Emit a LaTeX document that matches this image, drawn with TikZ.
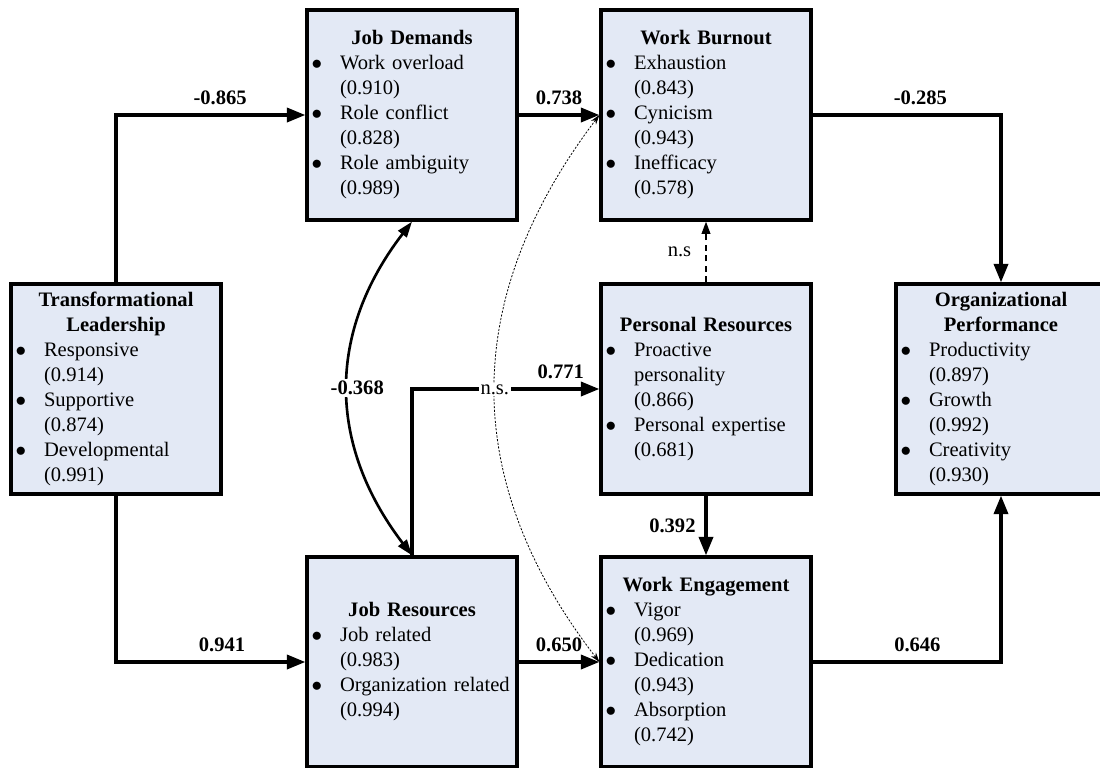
\documentclass[tikz,border=0pt]{standalone}
\usepackage{fontspec}
\setmainfont{Liberation Serif}
\usepackage{tikz}
\usetikzlibrary{arrows.meta}

\definecolor{boxblue}{RGB}{227,233,245}
\newcommand{\figfont}{\fontsize{11.7}{14.23}\selectfont}
\newcommand{\boxhead}[1]{{\centering\bfseries #1\par}}
\newcommand{\bitem}[1]{\noindent\hangindent=16.5pt\hangafter=1\makebox[16.5pt][l]{\hspace{0.4pt}$\bullet$}#1\par}

\begin{document}
\begin{tikzpicture}[x=0.02cm, y=-0.02cm,
		factor/.style={rectangle, draw, line width=1.9pt, fill=boxblue, minimum width=4.2cm, minimum height=4.2cm, text width=4.04cm, inner xsep=0.08cm, inner ysep=0pt, align=left, font=\figfont},
		arr/.style={line width=1.9pt, -{Triangle[length=10.5pt, width=8pt]}},
		corr/.style={line width=1.5pt, {Triangle[length=9pt, width=6pt]}-{Triangle[length=9pt, width=6pt]}},
		nsarr/.style={line width=0.8pt, dash pattern=on 3.5pt off 2.5pt, -{Triangle[length=7pt, width=5pt]}},
		dotarr/.style={line width=0.45pt, dash pattern=on 1.2pt off 0.9pt, {Stealth[length=5.5pt, width=3.5pt]}-{Stealth[length=5.5pt, width=3.5pt]}},
		coef/.style={font=\figfont\bfseries, inner sep=0pt},
		ns/.style={font=\figfont, inner sep=0pt}]
			\useasboundingbox (0,0) rectangle (1100,768);
			\clip (0,0) rectangle (1100,768);
			
			\node[factor] (0) at (116,389) {\boxhead{Transformational\\Leadership}\bitem{Responsive\newline(0.914)}\bitem{Supportive\newline(0.874)}\bitem{Developmental\newline(0.991)}};
			\node[factor] (1) at (412,115) {\boxhead{Job Demands}\bitem{Work overload\newline(0.910)}\bitem{Role conflict\newline(0.828)}\bitem{Role ambiguity\newline(0.989)}};
			\node[factor] (2) at (412,662) {\boxhead{Job Resources}\bitem{Job related\newline(0.983)}\bitem{Organization related\newline(0.994)}};
			\node[factor] (3) at (706,115) {\boxhead{Work Burnout}\bitem{Exhaustion\newline(0.843)}\bitem{Cynicism\newline(0.943)}\bitem{Inefficacy\newline(0.578)}};
			\node[factor] (4) at (706,389) {\boxhead{Personal Resources}\bitem{Proactive\newline personality\newline(0.866)}\bitem{Personal expertise\newline(0.681)}};
			\node[factor] (5) at (706,662) {\boxhead{Work Engagement}\bitem{Vigor\newline(0.969)}\bitem{Dedication\newline(0.943)}\bitem{Absorption\newline(0.742)}};
			\node[factor] (6) at (1001,389) {\boxhead{Organizational\\Performance}\bitem{Productivity\newline(0.897)}\bitem{Growth\newline(0.992)}\bitem{Creativity\newline(0.930)}};
			
			\draw[arr] (0.north) |- (1.west) node[coef, pos=0.775, above=5pt] {-0.865};
			\draw[arr] (0.south) |- (2.west) node[coef, pos=0.78, above=5pt] {0.941};
			\draw[arr] (1.east) -- (3.west) node[coef, midway, above=5pt] {0.738};
			\draw[arr] (2.east) -- (5.west) node[coef, midway, above=5pt] {0.650};
			\draw[arr] (3.east) -| (6.north) node[coef, pos=0.286, above=5pt] {-0.285};
			\draw[arr] (5.east) -| (6.south) node[coef, pos=0.278, above=5pt] {0.646};
			\draw[arr] (4.south) -- (5.north) node[coef, midway, left=5pt] {0.392};
			\draw[arr] (2.north) |- (4.west) node[coef, pos=0.897, above=5pt] {0.771};
			\draw[nsarr] (4.north) -- (3.south) node[ns, midway, left=8pt] {n.s};
			
			\draw[corr] (1.south) .. controls (327,332) and (327,444) .. (2.north) node[coef, midway, xshift=0.18cm, fill=white, inner sep=1pt] {-0.368};
			\draw[dotarr] (3.west) .. controls (460,299) and (460,481) .. (5.west) node[ns, midway, fill=white, inner sep=1pt] {n.s.};
		\end{tikzpicture}
\end{document}
